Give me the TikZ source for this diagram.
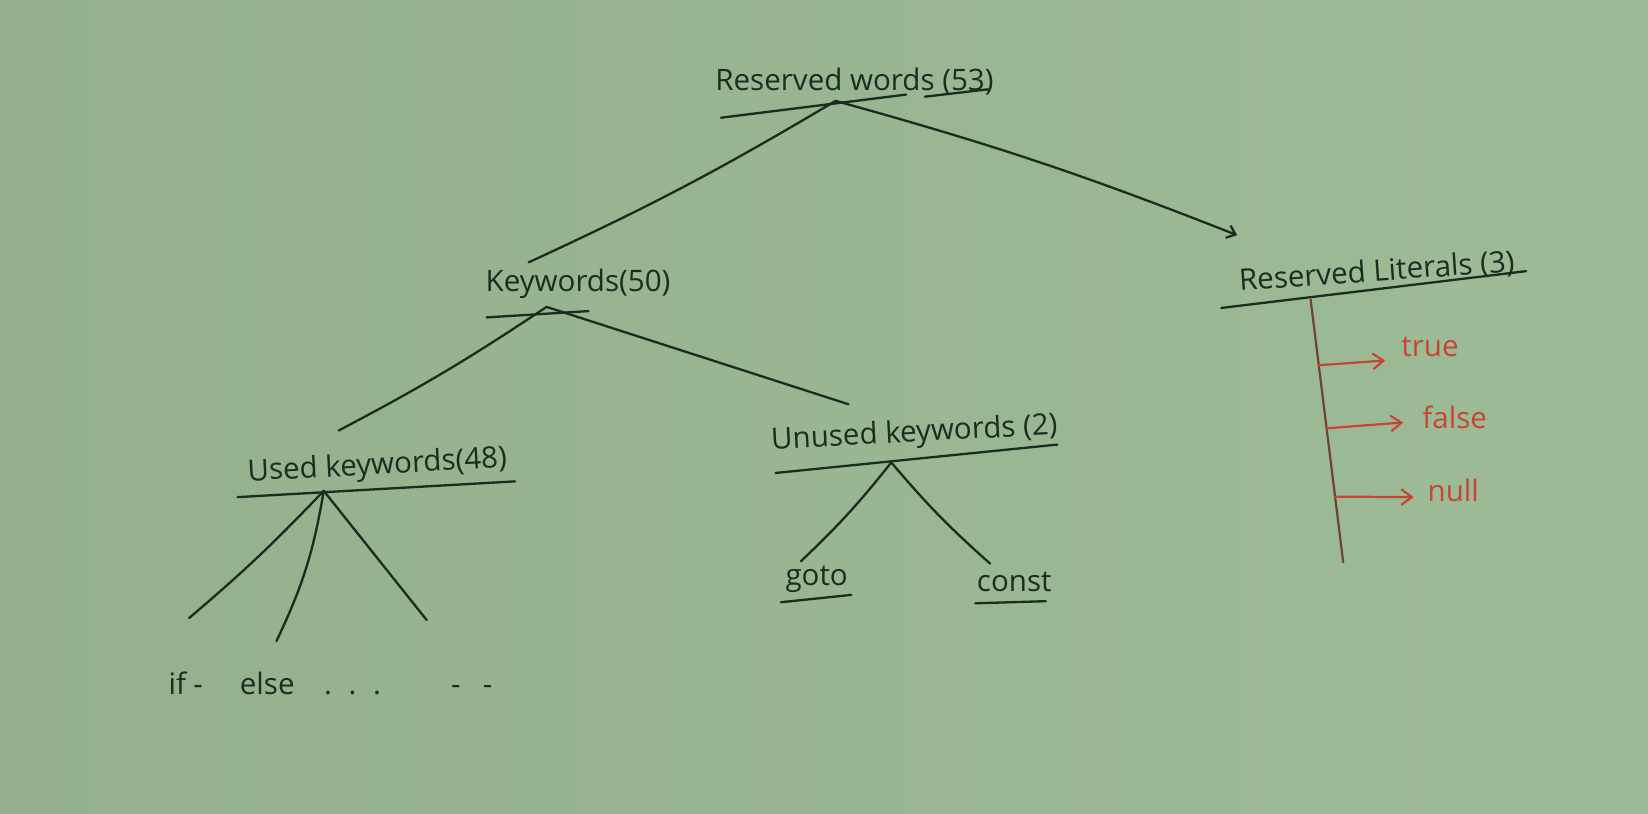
\documentclass[tikz,border=0pt]{standalone}
\usepackage{fontspec}
\setmainfont{Open Sans}
\usetikzlibrary{arrows.meta,calc}
\definecolor{BoardGreen}{RGB}{148,176,140}
\definecolor{BoardLight}{RGB}{158,187,152}
\definecolor{InkDark}{RGB}{28,44,30}
\definecolor{MarkerRed}{RGB}{198,70,52}
\definecolor{MarkerBrown}{RGB}{112,66,48}
\begin{document}
\begin{tikzpicture}[x=0.02cm,y=-0.02cm,
    word/.style={inner sep=0pt,text=InkDark,font=\fontsize{16}{18}\selectfont},
    redword/.style={inner sep=0pt,text=MarkerRed,font=\fontsize{16}{18}\selectfont},
    ink/.style={draw=InkDark,line width=1.25pt,line cap=round},
    redarrow/.style={draw=MarkerRed,line width=1.2pt,line cap=round,-{Straight Barb[length=2mm,width=3mm]}}]
    \shade[left color=BoardGreen,right color=BoardLight] (0,0) rectangle (1568,774);
    \useasboundingbox (0,0) rectangle (1568,774);
    \node[word] (rw) at (813,78) {Reserved words (53)};
    \node[word] (kw) at (550,270) {Keywords(50)};
    \node[word,rotate=4] (lit) at (1310,259) {Reserved Literals (3)};
    \node[word,rotate=3] (used) at (359,444) {Used keywords(48)};
    \node[word,rotate=3] (unused) at (870,413) {Unused keywords (2)};
    \node[word] (goto) at (777,551) {goto};
    \node[word] (const) at (965,554) {const};
    \node[word,anchor=west] (ifelse) at (160,650) {if\hspace{4pt}-\hspace{20pt}else\hspace{16pt}.\hspace{9pt}.\hspace{9pt}.\hspace{38pt}-\hspace{12pt}-};
    \node[redword,anchor=west] (true) at (1333,330) {true};
    \node[redword,anchor=west] (false) at (1353,397) {false};
    \node[redword,anchor=west] (null) at (1358,467) {null};
    \draw[ink] (686,112) -- (862,90);
    \draw[ink] (880,92) -- (940,85);
    \draw[ink] (463,302) -- (560,296);
    \draw[ink] (1162,293) -- (1452,258);
    \draw[ink] (226,473) -- (490,458);
    \draw[ink] (738,450) -- (1006,423);
    \draw[ink] (743,573) -- (810,566);
    \draw[ink] (928,574) -- (995,572);
    \coordinate (rwroot) at (795,96);
    \coordinate (kwroot) at (520,292);
    \coordinate (usedroot) at (308,467);
    \coordinate (unusedroot) at (848,440);
    \coordinate (littop) at (1247,285);
    \coordinate (litbot) at (1278,535);
    \coordinate (leafa) at (180,588);
    \coordinate (leafb) at (263,610);
    \coordinate (leafc) at (406,590);
    \draw[ink] (rwroot) to[bend left=3] ([shift={(-47,-6)}]kw.north);
    \draw[ink,-{Straight Barb[length=1.5mm,width=2.5mm]}] (rwroot) to[bend left=3] ([shift={(-132,-22)}]lit.north);
    \draw[ink] (kwroot) to[bend left=3] ([shift={(-36,-20)}]used.north);
    \draw[ink] (kwroot) -- ([shift={(-62,-14)}]unused.north);
    \draw[ink] (usedroot) to[bend left=3] (leafa);
    \draw[ink] (usedroot) to[bend left=8] (leafb);
    \draw[ink] (usedroot) -- (leafc);
    \draw[ink] (unusedroot) to[bend left=4] ([shift={(-15,-4)}]goto.north);
    \draw[ink] (unusedroot) to[bend right=4] ([shift={(-23,-8)}]const.north);
    \draw[draw=MarkerBrown,line width=1.2pt,line cap=round] (littop) -- (litbot);
    \draw[redarrow] ($(littop)!0.25!(litbot)$) -- ([shift={(-15,13)}]true.west);
    \draw[redarrow] ($(littop)!0.49!(litbot)$) -- ([shift={(-18,5)}]false.west);
    \draw[redarrow] ($(littop)!0.75!(litbot)$) -- ([shift={(-13,6)}]null.west);
\end{tikzpicture}
\end{document}
